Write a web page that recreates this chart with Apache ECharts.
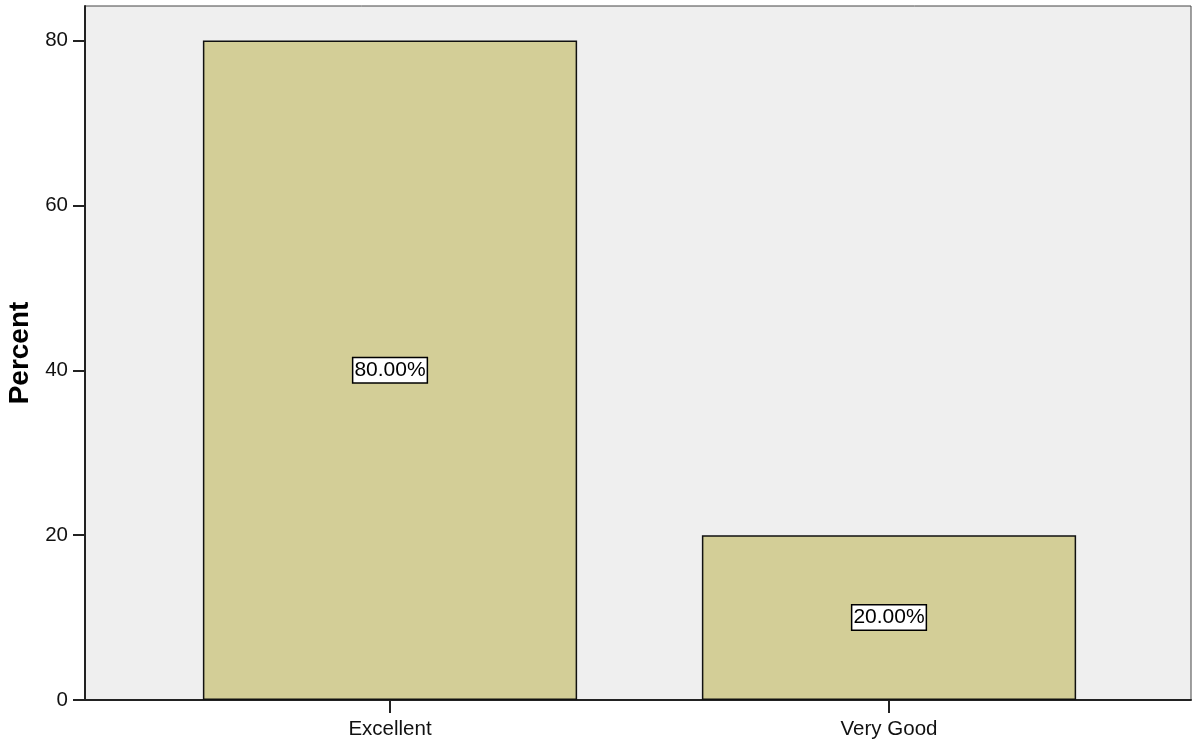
<!DOCTYPE html>
<html>
<head>
<meta charset="utf-8">
<script src="https://cdn.jsdelivr.net/npm/echarts@6/dist/echarts.min.js"></script>
<style>html,body{margin:0;padding:0;background:#fff;}#c{width:1192px;height:742px;}</style>
</head>
<body>
<div id="c"></div>
<script>
const categories = ['Excellent', 'Very Good'];
const percentValues = [80, 20];
const yTicks = [0, 20, 40, 60, 80];

const chart = echarts.init(document.getElementById('c'), null, {renderer: 'canvas'});
const font = 'Liberation Sans, Arial, sans-serif';
const yMax = 84.2;
chart.setOption({
  animation: false,
  grid: [
    {left: 85, right: 1, top: 6, bottom: 42, show: true, backgroundColor: '#efefef', borderColor: '#444', borderWidth: 1, containLabel: false, outerBoundsMode: 'none'},
    {left: 140.5, width: 998, top: 6, bottom: 42, containLabel: false, outerBoundsMode: 'none'}
  ],
  xAxis: [
    {gridIndex: 0, type: 'value', min: 0, max: 1, axisLine: {show: true, lineStyle: {color: '#222', width: 2}}, axisTick: {show: false}, axisLabel: {show: false}, splitLine: {show: false}},
    {gridIndex: 1, type: 'category', data: categories, axisLine: {show: false},
     axisTick: {show: true, alignWithLabel: true, length: 13, lineStyle: {color: '#222', width: 2}},
     axisLabel: {color: '#111', fontFamily: font, fontSize: 20.5, margin: 19}}
  ],
  yAxis: [
    {gridIndex: 0, type: 'value', min: 0, max: yMax, interval: 20,
     name: 'Percent', nameLocation: 'middle', nameGap: 48, nameTextStyle: {fontFamily: font, fontSize: 28, fontWeight: 'bold', color: '#000'},
     axisLine: {show: true, lineStyle: {color: '#222', width: 2}},
     axisTick: {show: true, length: 12, lineStyle: {color: '#222', width: 2}},
     axisLabel: {color: '#111', fontFamily: font, fontSize: 20.5, margin: 17, showMaxLabel: false, padding: [5, 0, 0, 0],
       formatter: v => yTicks.indexOf(v) >= 0 ? String(v) : ''},
     splitLine: {show: false}},
    {gridIndex: 1, type: 'value', min: 0, max: yMax, show: false}
  ],
  series: [{
    type: 'bar', xAxisIndex: 1, yAxisIndex: 1, data: percentValues, barWidth: '75%',
    itemStyle: {color: '#d3ce97', borderColor: '#111', borderWidth: 1.5},
    label: {show: true, position: 'inside', formatter: p => p.value.toFixed(2) + '%',
      color: '#000', fontFamily: font, fontSize: 21, backgroundColor: '#fff', borderColor: '#000', borderWidth: 1.5, padding: [2, 1, 1, 1]}
  }]
});
</script>
</body>
</html>
